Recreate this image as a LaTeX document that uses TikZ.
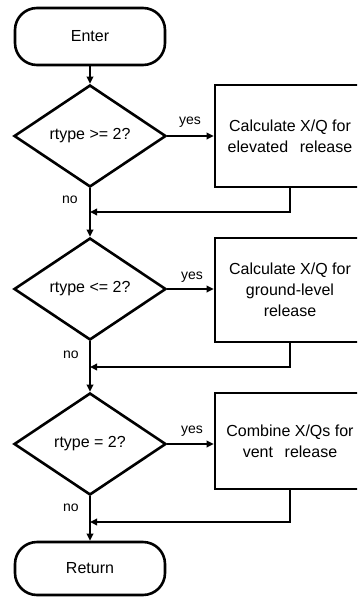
\documentclass[tikz,border=0pt]{standalone}
\usepackage{fontspec}
\setmainfont{Liberation Sans}
\usetikzlibrary{shapes.geometric,arrows.meta}
\begin{document}
\begin{tikzpicture}[x=1pt,y=-1pt,
  shapeline/.style={line width=2.6pt},
  term/.style={shapeline, draw, rounded corners=22pt, minimum width=150pt, font=\fontsize{16}{18}\selectfont},
  dec/.style={shapeline, draw, diamond, aspect=1.49, minimum width=152pt, minimum height=102pt, inner sep=0pt, font=\fontsize{16}{18}\selectfont},
  proc/.style={shapeline, draw, rectangle, minimum width=150pt, align=center, font=\fontsize{16}{21}\selectfont},
  lbl/.style={font=\fontsize{14}{16}\selectfont, inner sep=0pt},
  arr/.style={-{Triangle[length=7pt,width=6.5pt]}, line width=1.8pt}
]
\useasboundingbox (0,0) rectangle (357,597);
\clip (0,0) rectangle (357,597);

\node[term, minimum height=57pt] (enter) at (90,36.5) {Enter};
\node[dec] (d1) at (90,136) {rtype >= 2?};
\node[proc, minimum height=102pt] (b1) at (290,136) {Calculate X/Q for\\elevated\hspace{0.45em} release};
\node[dec] (d2) at (90,289) {rtype <= 2?};
\node[proc, minimum height=104pt] (b2) at (290,290) {Calculate X/Q for\\ground-level\\release};
\node[dec] (d3) at (90,444) {rtype = 2?};
\node[proc, minimum height=96pt] (b3) at (290,441) {Combine X/Qs for\\vent\hspace{0.45em} release};
\node[term, minimum height=53pt] (ret) at (90,568.5) {Return};

\coordinate (m1) at (90,212);
\coordinate (m2) at (90,367);
\coordinate (m3) at (90,522);

\draw[arr] (enter) -- (d1);
\draw[arr] (d1.east) -- (d1.east -| b1.west);
\draw[arr] (d2.east) -- (d2.east -| b2.west);
\draw[arr] (d3.east) -- (d3.east -| b3.west);
\draw[arr] (d1.south) -- (d2.north);
\draw[arr] (d2.south) -- (d3.north);
\draw[arr] (d3.south) -- (ret.north);
\draw[arr] (b1.south) |- (m1);
\draw[arr] (b2.south) |- (m2);
\draw[arr] (b3.south) |- (m3);

\node[lbl] (y1) at (190,122) {yes};
\node[lbl] (y2) at (192,277) {yes};
\node[lbl] (y3) at (192,431) {yes};
\node[lbl] (n1) at (70,200) {no};
\node[lbl] (n2) at (71,355) {no};
\node[lbl] (n3) at (71,508) {no};
\end{tikzpicture}
\end{document}
